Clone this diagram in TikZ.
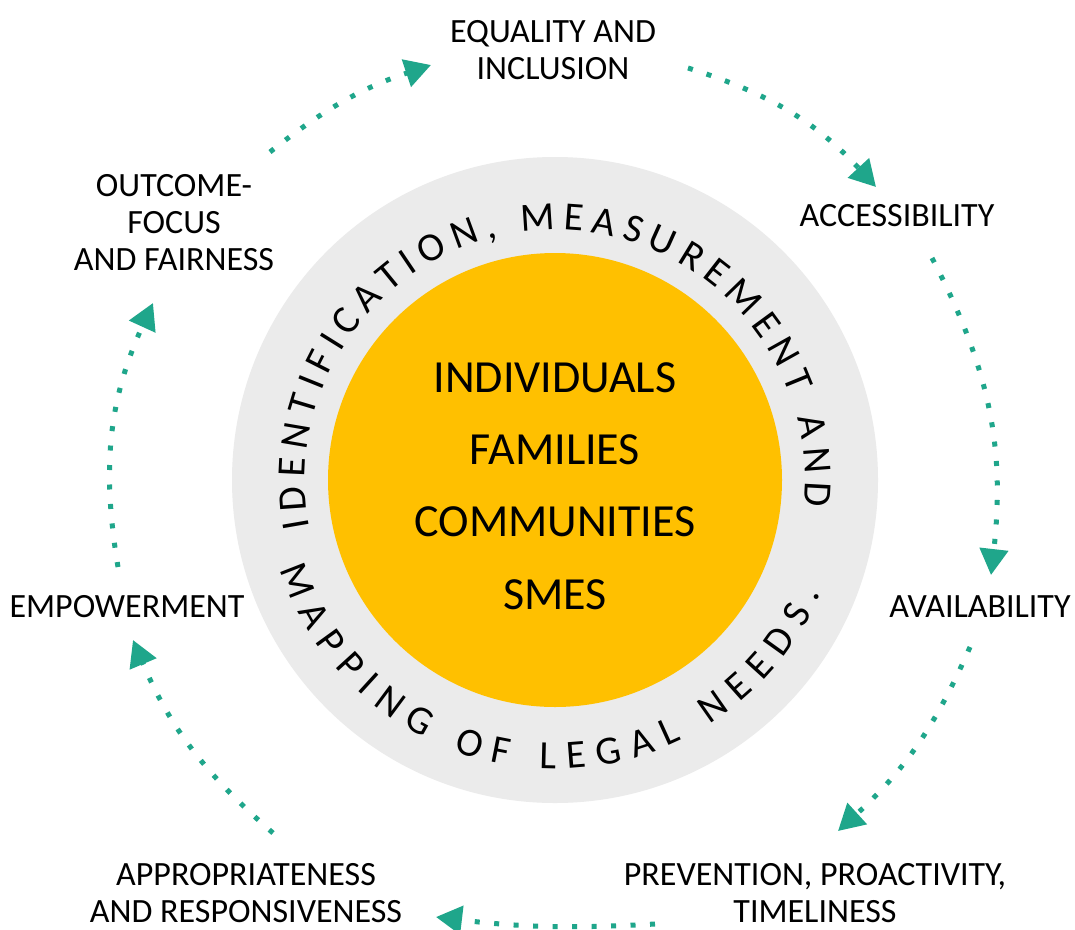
\documentclass[tikz,border=0pt]{standalone}
\usepackage{fontspec}
\setmainfont{Carlito}
\usetikzlibrary{positioning,arrows.meta,decorations.text}
\definecolor{LegalTeal}{HTML}{1FA68B}
\definecolor{LegalGold}{HTML}{FFC000}
\definecolor{LegalRing}{HTML}{EBEBEB}
\newcommand\ringfont{\fontsize{40}{44}\selectfont}

\begin{document}
\begin{tikzpicture}[x=1pt,y=1pt,node distance=42pt]
  \tikzstyle{pillar}=[align=center,inner sep=0pt,
    font=\fontsize{34}{37}\selectfont]
  \tikzstyle{group}=[inner sep=0pt,text height=30pt,text depth=0pt,
    font=\fontsize{46}{50}\selectfont]
  \tikzstyle{cycle}=[color=LegalTeal,line width=5pt,
    dash pattern=on 5pt off 14.5pt,-{Triangle[length=26pt,width=28pt]}]
  \useasboundingbox[fill=white] (0,0) rectangle (1075,-929);
  % rings
  \coordinate (hub) at (555,-480);
  \fill[LegalRing] (hub) circle[radius=323pt];
  \fill[LegalGold] (hub) circle[radius=227pt];
  \path[decorate,decoration={text along path,text align={fit to path},
      text={|\ringfont|IDENTIFICATION, MEASUREMENT AND}}]
    (hub) ++(191:250pt) arc[start angle=191,end angle=-6,radius=250pt];
  \path[decorate,decoration={text along path,text align={fit to path},
      text={|\ringfont|MAPPING OF LEGAL NEEDS.}}]
    (hub) ++(198:289pt) arc[start angle=198,end angle=337,radius=289pt];
  % centre
  \node[group] (indiv) at (555,-377) {INDIVIDUALS};
  \node[group,below=of indiv] (famil) {FAMILIES};
  \node[group,below=of famil] (commun) {COMMUNITIES};
  \node[group,below=of commun] (smes) {SMES};
  % principles
  \node[pillar] (equal) at (553,-50) {EQUALITY AND\\INCLUSION};
  \node[pillar] (access) at (897,-216) {ACCESSIBILITY};
  \node[pillar] (avail) at (980,-607) {AVAILABILITY};
  \node[pillar] (prevent) at (815,-893) {PREVENTION, PROACTIVITY,\\TIMELINESS};
  \node[pillar] (approp) at (246,-893) {APPROPRIATENESS\\AND RESPONSIVENESS};
  \node[pillar] (empower) at (127,-607) {EMPOWERMENT};
  \node[pillar] (outcome) at (174,-223) {OUTCOME-\\FOCUS\\AND FAIRNESS};
  % cycle
  \coordinate (outcome-out) at (270,-152);
  \coordinate (equal-in) at (431,-65);
  \coordinate (equal-out) at (688,-68);
  \coordinate (access-in) at (876,-187);
  \coordinate (access-out) at (932,-258);
  \coordinate (avail-in) at (991,-575);
  \coordinate (avail-out) at (970,-647);
  \coordinate (prevent-in) at (838,-831);
  \coordinate (prevent-out) at (655,-924);
  \coordinate (approp-in) at (436,-917);
  \coordinate (approp-out) at (273,-833);
  \coordinate (empower-in) at (133,-640);
  \coordinate (empower-out) at (118,-567);
  \coordinate (outcome-in) at (153,-303);
  \draw[cycle,bend left=10] (outcome-out) to (equal-in);
  \draw[cycle,bend left=15] (equal-out) to (access-in);
  \draw[cycle,bend left=17] (access-out) to (avail-in);
  \draw[cycle,bend left=12] (avail-out) to (prevent-in);
  \draw[cycle,bend left=5] (prevent-out) to (approp-in);
  \draw[cycle,bend left=13] (approp-out) to (empower-in);
  \draw[cycle,bend left=17] (empower-out) to (outcome-in);
\end{tikzpicture}
\end{document}
